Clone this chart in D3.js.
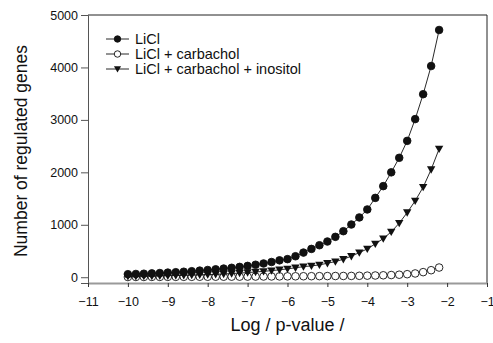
<!DOCTYPE html>
<html>
<head>
<meta charset="utf-8">
<script src="https://cdn.jsdelivr.net/npm/d3@7"></script>
<style>
  body { margin: 0; background: #fff; }
  text { font-family: "Liberation Sans", Arial, sans-serif; }
</style>
</head>
<body>
<script>
// log p-value thresholds (-10 to -2.2, step 0.2)
const logP = [-10, -9.8, -9.6, -9.4, -9.2, -9, -8.8, -8.6, -8.4, -8.2,
              -8, -7.8, -7.6, -7.4, -7.2, -7, -6.8, -6.6, -6.4, -6.2,
              -6, -5.8, -5.6, -5.4, -5.2, -5, -4.8, -4.6, -4.4, -4.2,
              -4, -3.8, -3.6, -3.4, -3.2, -3, -2.8, -2.6, -2.4, -2.2];

const liCl = [58, 62, 67, 73, 80, 88, 96, 105, 115, 126,
              138, 151, 165, 180, 197, 216, 238, 262, 290, 322,
              345, 400, 470, 540, 610, 681, 770, 878, 1005, 1140,
              1292, 1513, 1737, 2000, 2277, 2600, 3015, 3490, 4027, 4714];

const liClCarb = [4, 5, 5, 6, 6, 7, 7, 8, 8, 9,
                  9, 10, 10, 11, 11, 12, 13, 14, 15, 16,
                  17, 18, 19, 20, 21, 22, 23, 24, 25, 27,
                  30, 33, 37, 42, 48, 58, 72, 97, 134, 185];

const liClCarbIno = [18, 20, 22, 24, 26, 29, 32, 36, 40, 45,
                     50, 56, 63, 70, 79, 89, 100, 112, 126, 142,
                     160, 180, 202, 216, 235, 267, 298, 344, 401, 470,
                     540, 636, 737, 865, 1031, 1233, 1456, 1718, 2054, 2447];

const xTicks = [-11, -10, -9, -8, -7, -6, -5, -4, -3, -2, -1];
const yTicks = [0, 1000, 2000, 3000, 4000, 5000];

const seriesNames = ["LiCl", "LiCl + carbachol", "LiCl + carbachol + inositol"];
const seriesValues = [liCl, liClCarb, liClCarbIno];
const seriesMarks = ["filled", "open", "triangle"];

const width = 493, height = 343;
const margin = {top: 15, right: 6, bottom: 60, left: 88};
const font = "'Liberation Sans', Arial, sans-serif";

const svg = d3.select("body")
    .append("svg")
    .attr("width", width)
    .attr("height", height);

const x = d3.scaleLinear().domain([-11, -1]).range([margin.left, width - margin.right]);
const y = d3.scaleLinear().domain([-110, 5000]).range([height - margin.bottom, margin.top]);

// frame: top and right borders
svg.append("path")
    .attr("d", `M${x(-11)},${y(5000)}H${x(-1)}V${y(-110)}`)
    .attr("fill", "none")
    .attr("stroke", "#222")
    .attr("stroke-width", 1);

// y axis
const yAxis = svg.append("g")
    .attr("transform", `translate(${x(-11)},0)`)
    .call(d3.axisLeft(y).tickValues(yTicks).tickSize(7).tickPadding(3).tickFormat(d3.format("d")));
yAxis.select(".domain").attr("stroke", "#555");
yAxis.selectAll(".tick line").attr("stroke", "#555");
yAxis.selectAll("text").attr("font-size", 12.5).attr("fill", "#111")
    .style("font-family", font);

// x axis
const xAxis = svg.append("g")
    .attr("transform", `translate(0,${y(-110)})`)
    .call(d3.axisBottom(x).tickValues(xTicks).tickSize(4).tickSizeOuter(0).tickPadding(10).tickFormat(d3.format("d")));
xAxis.select(".domain").attr("stroke", "#9a9a9a").attr("stroke-width", 2);
xAxis.selectAll(".tick line").attr("stroke", "#333");
xAxis.selectAll("text").attr("font-size", 12.5).attr("fill", "#111")
    .style("font-family", font);

// axis titles
svg.append("text")
    .attr("x", (x(-11) + x(-1)) / 2)
    .attr("y", 331)
    .attr("text-anchor", "middle")
    .attr("font-size", 18)
    .attr("fill", "#111")
    .text("Log / p-value /");

svg.append("text")
    .attr("transform", "translate(27,151) rotate(-90)")
    .attr("text-anchor", "middle")
    .attr("font-size", 17.5)
    .attr("fill", "#111")
    .text("Number of regulated genes");

const line = d3.line()
    .x(d => x(d[0]))
    .y(d => y(d[1]));

const triangle = "M-4.2,-3.2L4.2,-3.2L0,4.2Z";

function drawMarker(g, kind, s = 1) {
    if (kind === "triangle") {
        g.append("path").attr("d", triangle).attr("fill", "#111")
            .attr("transform", `scale(${s})`);
    } else {
        g.append("circle")
            .attr("r", 3.8 * s)
            .attr("fill", kind === "filled" ? "#111" : "#fff")
            .attr("stroke", "#111")
            .attr("stroke-width", 0.9);
    }
}

// draw order: open circles underneath, then triangles, then filled
[1, 2, 0].forEach(i => {
    const pts = logP.map((p, j) => [p, seriesValues[i][j]]);
    const g = svg.append("g");
    g.append("path")
        .datum(pts)
        .attr("d", line)
        .attr("fill", "none")
        .attr("stroke", "#111")
        .attr("stroke-width", 0.9);
    g.selectAll("g.pt")
        .data(pts)
        .join("g")
        .attr("class", "pt")
        .attr("transform", d => `translate(${x(d[0])},${y(d[1])})`)
        .each(function() { drawMarker(d3.select(this), seriesMarks[i]); });
});

// legend
const legend = svg.append("g").attr("transform", "translate(106,39)");
seriesNames.forEach((name, i) => {
    const row = legend.append("g").attr("transform", `translate(0,${i * 15})`);
    row.append("line")
        .attr("x1", 0).attr("x2", 23)
        .attr("stroke", "#111").attr("stroke-width", 0.9);
    const m = row.append("g").attr("transform", "translate(11.5,0)");
    drawMarker(m, seriesMarks[i], 0.85);
    row.append("text")
        .attr("x", 29)
        .attr("dy", "0.35em")
        .attr("font-size", 14.5)
        .attr("fill", "#111")
        .text(name);
});
</script>
</body>
</html>
